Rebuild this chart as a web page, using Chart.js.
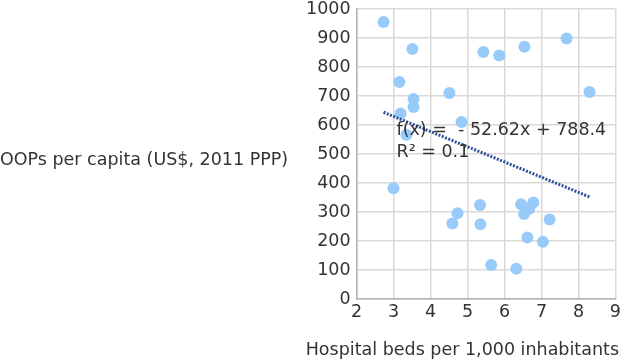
<!DOCTYPE html>
<html>
<head>
<meta charset="utf-8">
<script src="https://cdn.jsdelivr.net/npm/chart.js@4/dist/chart.umd.min.js"></script>
<style>
  html, body { margin: 0; padding: 0; background: #fff; }
  #wrap { width: 624px; height: 362px; position: relative; }
</style>
</head>
<body>
<div id="wrap"><canvas id="chart"></canvas></div>
<script>
// hospital beds per 1,000 inhabitants
const bedsX = [2.73, 3.51, 3.16, 3.54, 3.54, 3.19, 3.35, 4.51, 4.84, 5.43, 5.86, 6.54, 7.68, 8.3,
               3.0, 4.73, 4.59, 5.34, 5.35, 5.64, 6.32, 6.45, 6.53, 6.67, 6.78, 6.62, 7.04, 7.22];
// OOPs per capita
const oopsY = [955, 862, 748, 690, 662, 640, 566, 710, 610, 852, 840, 870, 898, 714,
               382, 296, 260, 324, 258, 117, 104, 327, 293, 311, 333, 212, 197, 274];

const trendX = [2.73, 8.3];
const trendY = [644, 352];
const trendLabel = ['f(x) =  - 52.62x + 788.4', 'R\u00b2 = 0.1'];

const xTicks = [2, 3, 4, 5, 6, 7, 8, 9];
const yTicks = [0, 100, 200, 300, 400, 500, 600, 700, 800, 900, 1000];

const yTitle = 'OOPs per capita (US$, 2011 PPP)';
const xTitle = 'Hospital beds per 1,000 inhabitants';

const FONT = "'DejaVu Sans', sans-serif";
const SIZE = 17.5;
const TEXT = '#333333';

const labelsPlugin = {
    id: 'labels',
    afterDraw(chart) {
        const { ctx, scales } = chart;
        ctx.save();
        ctx.fillStyle = TEXT;
        ctx.font = `${SIZE}px ${FONT}`;
        ctx.textBaseline = 'middle';
        ctx.textAlign = 'left';
        ctx.fillText(yTitle, 0, 160);

        const x0 = scales.x.getPixelForValue(3.08);
        ctx.fillText(trendLabel[0], x0, scales.y.getPixelForValue(580));
        ctx.fillText(trendLabel[1], x0, scales.y.getPixelForValue(507));

        ctx.textAlign = 'right';
        ctx.fillText(xTitle, 619, 350);
        ctx.restore();
    }
};

new Chart(document.getElementById('chart').getContext('2d'), {
    type: 'scatter',
    data: {
        datasets: [
            {
                label: 'OOPs',
                data: bedsX.map((x, i) => ({ x, y: oopsY[i] })),
                backgroundColor: '#99cbfa',
                borderWidth: 0,
                pointRadius: 6,
                order: 2
            },
            {
                type: 'line',
                label: 'Trend',
                data: trendX.map((x, i) => ({ x, y: trendY[i] })),
                borderColor: '#2b4f99',
                borderWidth: 3,
                borderDash: [2, 1.5],
                pointRadius: 0,
                fill: false,
                order: 1
            }
        ]
    },
    options: {
        responsive: true,
        maintainAspectRatio: false,
        animation: false,
        layout: { padding: { left: 300, right: 6, top: 9, bottom: 36 } },
        plugins: {
            legend: { display: false },
            tooltip: { enabled: false }
        },
        scales: {
            x: {
                type: 'linear',
                min: 2,
                max: 9,
                afterBuildTicks: (s) => { s.ticks = xTicks.map((v) => ({ value: v })); },
                ticks: { color: TEXT, font: { family: FONT, size: SIZE }, padding: 3, callback: (v) => String(v) },
                grid: { color: '#d9d9d9', lineWidth: 1.5, drawTicks: false },
                border: { color: '#b3b3b3', width: 1.5 }
            },
            y: {
                type: 'linear',
                min: 0,
                max: 1000,
                afterBuildTicks: (s) => { s.ticks = yTicks.map((v) => ({ value: v })); },
                afterFit: (s) => { s.paddingTop = 0; s.paddingBottom = 0; },
                ticks: { color: TEXT, font: { family: FONT, size: SIZE }, padding: 6, callback: (v) => String(v) },
                grid: { color: '#d9d9d9', lineWidth: 1.5, drawTicks: false },
                border: { color: '#b3b3b3', width: 1.5 }
            }
        }
    },
    plugins: [labelsPlugin]
});
</script>
</body>
</html>
